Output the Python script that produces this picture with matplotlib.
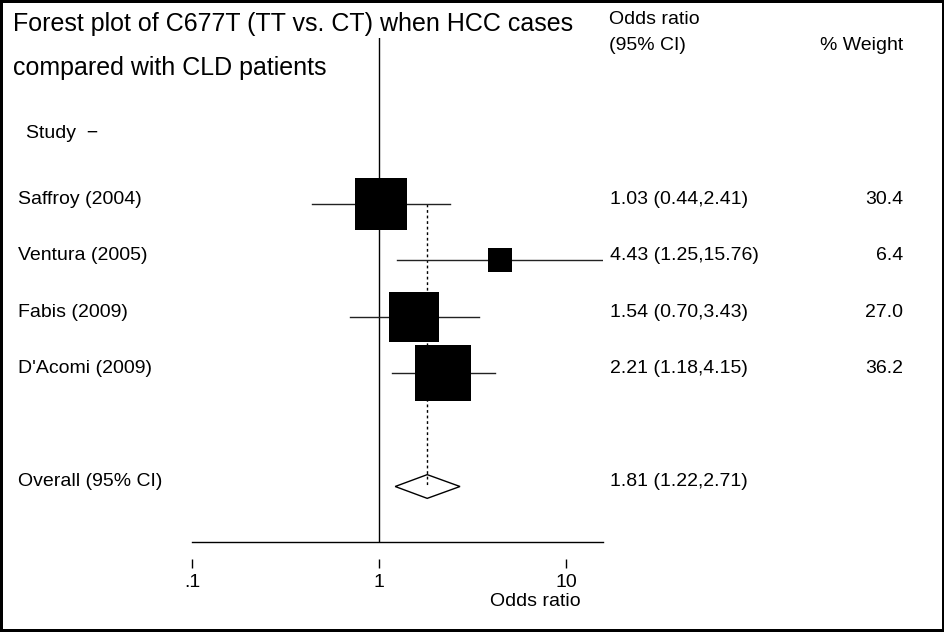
import matplotlib
matplotlib.use('Agg')
import matplotlib.pyplot as plt
from matplotlib.ticker import NullLocator
from matplotlib.transforms import blended_transform_factory
import math

# data
studies = ["Saffroy (2004)", "Ventura (2005)", "Fabis (2009)", "D'Acomi (2009)"]
odds = [1.03, 4.43, 1.54, 2.21]
ci_low = [0.44, 1.25, 0.70, 1.18]
ci_high = [2.41, 15.76, 3.43, 4.15]
weights = [30.4, 6.4, 27.0, 36.2]
overall = 1.81
overall_low = 1.22
overall_high = 2.71
tick_vals = [0.1, 1, 10]
tick_labels = [".1", "1", "10"]

plt.rcParams['font.family'] = ['Liberation Sans', 'DejaVu Sans']

W, H = 945, 632
fig = plt.figure(figsize=(W / 100, H / 100), dpi=100)
fig.patch.set_edgecolor('black')
fig.patch.set_linewidth(3)


def px(x, y):
    return x / W, 1 - y / H


row_px = 56.5
ax = fig.add_axes([192 / W, (H - 542) / H, (603 - 192) / W, (542 - 38) / H])
ax.set_xscale('log')
ax.set_xlim(0.1, 15.76)
ax.set_ylim((542 - 204) / row_px, -(204 - 38) / row_px)

rows = list(range(len(studies)))
overall_row = len(studies) + 1

# dotted line at overall estimate
ax.plot([overall, overall], [rows[0], overall_row], ls=(0, (2, 2)),
        color='black', lw=1, zorder=1)
ax.axvline(1, color='black', lw=1, zorder=1)

for i in rows:
    ax.plot([ci_low[i], ci_high[i]], [i, i], color='#222222', lw=1, zorder=2)
    ax.plot(odds[i], i, marker='s', ms=9.45 * math.sqrt(weights[i]) * 0.72,
            color='black', mew=0, zorder=3)

ax.fill([overall_low, overall, overall_high, overall],
        [overall_row, overall_row - 0.21, overall_row, overall_row + 0.21],
        facecolor='none', edgecolor='black', lw=1, zorder=3)

for s in ['top', 'right', 'left']:
    ax.spines[s].set_visible(False)
ax.spines['bottom'].set_position(('outward', 12.2))
ax.spines['bottom'].set_color('none')
ax.plot([0, 1], [0, 0], transform=ax.transAxes, color='black', lw=1, clip_on=False)

ax.set_xticks(tick_vals)
ax.set_xticklabels(tick_labels)
ax.xaxis.set_minor_locator(NullLocator())
ax.tick_params(axis='x', direction='out', length=6.5, width=1, pad=4, labelsize=14)
ax.set_yticks([])

trans = blended_transform_factory(fig.transFigure, ax.transData)
for i in rows:
    ax.text(18 / W, i, studies[i], transform=trans, va='baseline', fontsize=14)
    ax.text(610 / W, i, f"{odds[i]:.2f} ({ci_low[i]:.2f},{ci_high[i]:.2f})",
            transform=trans, va='baseline', fontsize=14)
    ax.text(903 / W, i, f"{weights[i]:.1f}", transform=trans, va='baseline',
            ha='right', fontsize=14)
ax.text(18 / W, overall_row, "Overall (95% CI)", transform=trans, va='baseline', fontsize=14)
ax.text(610 / W, overall_row, f"{overall:.2f} ({overall_low:.2f},{overall_high:.2f})",
        transform=trans, va='baseline', fontsize=14)

fig.text(*px(13, 24), "Forest plot of C677T (TT vs. CT) when HCC cases", va='center', fontsize=18)
fig.text(*px(13, 68), "compared with CLD patients", va='center', fontsize=18)
fig.text(*px(26, 133), "Study  \u2212", va='center', fontsize=14)
fig.text(*px(609, 20), "Odds ratio", va='center', fontsize=14)
fig.text(*px(609, 45), "(95% CI)", va='center', fontsize=14)
fig.text(*px(903, 45), "% Weight", va='center', ha='right', fontsize=14)
fig.text(*px(535, 601), "Odds ratio", va='center', ha='center', fontsize=14)

fig.savefig('out.png', dpi=100)
